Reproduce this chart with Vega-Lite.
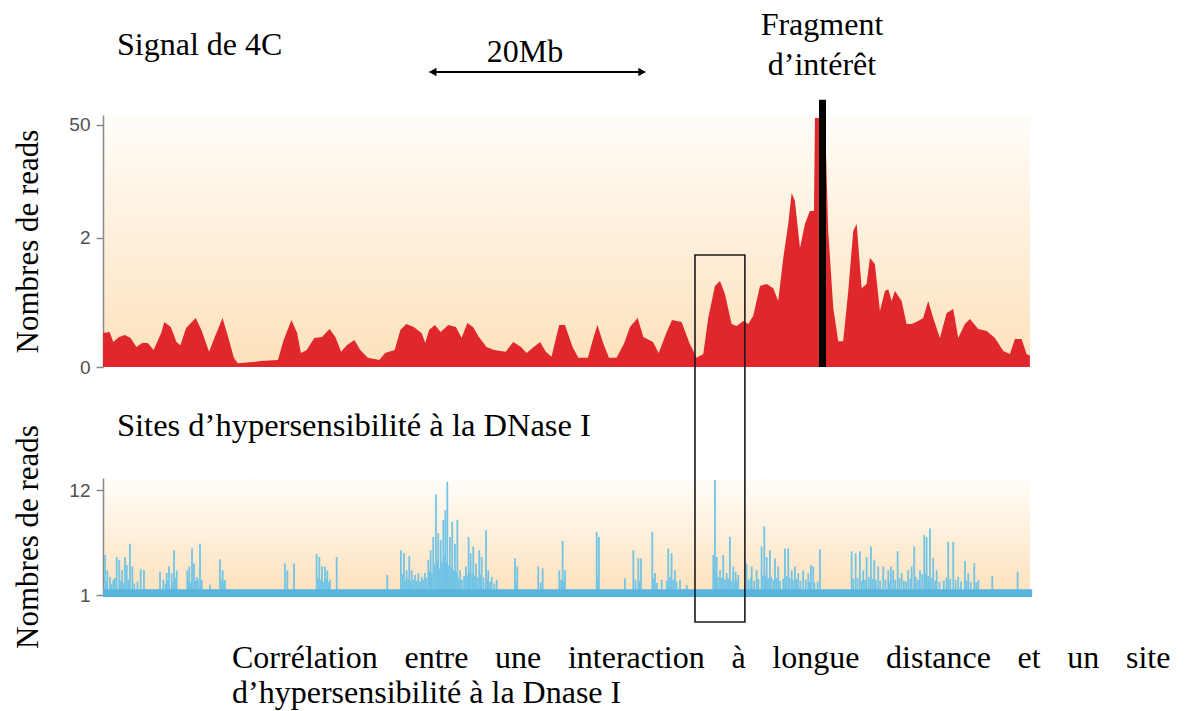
{
  "$schema": "https://vega.github.io/schema/vega-lite/v6.json",
  "padding": {"left": 12, "top": 0, "right": 0, "bottom": 0},
  "bounds": "flush",
  "spacing": 0,
  "config": {
    "font": "Liberation Serif",
    "view": {"stroke": null},
    "axisY": {
      "grid": false,
      "domainColor": "#8a8a8a",
      "domainWidth": 1.5,
      "tickColor": "#8a8a8a",
      "tickWidth": 1.5,
      "tickSize": 7,
      "labelFont": "Liberation Sans",
      "labelFontSize": 19,
      "labelColor": "#505050",
      "labelPadding": 6,
      "titleFont": "Liberation Serif",
      "titleFontSize": 31,
      "titleFontWeight": "normal",
      "titleColor": "black",
      "titlePadding": 24
    }
  },
  "vconcat": [
    {
      "width": 927,
      "height": 115,
      "view": {"stroke": null, "fill": null},
      "layer": [
        {
          "data": {"values": [{}]},
          "mark": {"type": "text", "text": "Signal de 4C", "align": "left", "baseline": "alphabetic", "fontSize": 32, "color": "black"},
          "encoding": {
            "x": {"datum": 1.3, "type": "quantitative", "scale": {"domain": [0, 86], "nice": false}, "axis": null},
            "y": {"datum": 52.2, "type": "quantitative", "scale": {"domain": [0, 100], "nice": false}, "axis": null}
          }
        },
        {
          "data": {"values": [{}]},
          "mark": {"type": "text", "text": ["Fragment", "d’intérêt"], "align": "center", "baseline": "alphabetic", "lineHeight": 40, "fontSize": 32, "color": "black"},
          "encoding": {
            "x": {"datum": 66.7, "type": "quantitative"},
            "y": {"datum": 69.6, "type": "quantitative"}
          }
        },
        {
          "data": {"values": [{}]},
          "mark": {"type": "text", "text": "20Mb", "align": "center", "baseline": "alphabetic", "fontSize": 32, "color": "black"},
          "encoding": {
            "x": {"datum": 39.15, "type": "quantitative"},
            "y": {"datum": 46.1, "type": "quantitative"}
          }
        },
        {
          "data": {"values": [{}]},
          "mark": {"type": "rule", "color": "black", "strokeWidth": 1.8},
          "encoding": {
            "x": {"datum": 30.3, "type": "quantitative"},
            "x2": {"datum": 50.3},
            "y": {"datum": 37.4, "type": "quantitative"}
          }
        },
        {
          "data": {"values": [{}]},
          "mark": {"type": "point", "shape": "triangle-left", "filled": true, "color": "black", "opacity": 1, "size": 70},
          "encoding": {
            "x": {"datum": 30.6, "type": "quantitative"},
            "y": {"datum": 37.4, "type": "quantitative"}
          }
        },
        {
          "data": {"values": [{}]},
          "mark": {"type": "point", "shape": "triangle-right", "filled": true, "color": "black", "opacity": 1, "size": 70},
          "encoding": {
            "x": {"datum": 50.0, "type": "quantitative"},
            "y": {"datum": 37.4, "type": "quantitative"}
          }
        }
      ]
    },
    {
      "width": 927,
      "height": 252,
      "view": {
        "stroke": null,
        "fill": {"gradient": "linear", "x1": 0, "y1": 0, "x2": 0, "y2": 1, "stops": [{"offset": 0, "color": "#fffdf9"}, {"offset": 1, "color": "#fde1bb"}]}
      },
      "layer": [
        {
          "data": {"values": [
            {"pos": 0.0, "reads": 0.087}, {"pos": 0.61, "reads": 0.091}, {"pos": 0.96, "reads": 0.055}, {"pos": 1.49, "reads": 0.072},
            {"pos": 2.03, "reads": 0.079}, {"pos": 2.56, "reads": 0.068}, {"pos": 3.10, "reads": 0.041}, {"pos": 3.63, "reads": 0.052},
            {"pos": 4.16, "reads": 0.052}, {"pos": 4.69, "reads": 0.033}, {"pos": 5.40, "reads": 0.087}, {"pos": 5.69, "reads": 0.138},
            {"pos": 6.29, "reads": 0.113}, {"pos": 6.82, "reads": 0.055}, {"pos": 7.18, "reads": 0.046}, {"pos": 7.71, "reads": 0.108},
            {"pos": 8.60, "reads": 0.161}, {"pos": 9.13, "reads": 0.099}, {"pos": 9.84, "reads": 0.029}, {"pos": 10.37, "reads": 0.072},
            {"pos": 11.09, "reads": 0.161}, {"pos": 11.61, "reads": 0.072}, {"pos": 12.14, "reads": 0.016}, {"pos": 12.50, "reads": 0.006},
            {"pos": 13.92, "reads": 0.008}, {"pos": 14.63, "reads": 0.010}, {"pos": 16.23, "reads": 0.012}, {"pos": 16.76, "reads": 0.062},
            {"pos": 17.48, "reads": 0.149}, {"pos": 18.01, "reads": 0.087}, {"pos": 18.36, "reads": 0.026}, {"pos": 18.90, "reads": 0.033},
            {"pos": 19.60, "reads": 0.068}, {"pos": 20.32, "reads": 0.072}, {"pos": 21.02, "reads": 0.104}, {"pos": 21.56, "reads": 0.072},
            {"pos": 22.09, "reads": 0.029}, {"pos": 22.62, "reads": 0.046}, {"pos": 23.33, "reads": 0.062}, {"pos": 23.86, "reads": 0.033},
            {"pos": 24.57, "reads": 0.016}, {"pos": 25.64, "reads": 0.012}, {"pos": 26.17, "reads": 0.026}, {"pos": 27.06, "reads": 0.033},
            {"pos": 27.59, "reads": 0.099}, {"pos": 28.13, "reads": 0.128}, {"pos": 28.83, "reads": 0.113}, {"pos": 29.55, "reads": 0.087},
            {"pos": 29.90, "reads": 0.052}, {"pos": 30.25, "reads": 0.099}, {"pos": 30.79, "reads": 0.123}, {"pos": 31.32, "reads": 0.091},
            {"pos": 32.03, "reads": 0.123}, {"pos": 32.74, "reads": 0.113}, {"pos": 33.27, "reads": 0.068}, {"pos": 33.80, "reads": 0.133},
            {"pos": 34.33, "reads": 0.113}, {"pos": 34.87, "reads": 0.072}, {"pos": 35.58, "reads": 0.041}, {"pos": 36.29, "reads": 0.033},
            {"pos": 37.36, "reads": 0.029}, {"pos": 38.06, "reads": 0.055}, {"pos": 38.78, "reads": 0.041}, {"pos": 39.30, "reads": 0.026},
            {"pos": 39.84, "reads": 0.038}, {"pos": 40.55, "reads": 0.055}, {"pos": 41.08, "reads": 0.029}, {"pos": 41.61, "reads": 0.018},
            {"pos": 42.32, "reads": 0.123}, {"pos": 42.86, "reads": 0.123}, {"pos": 43.56, "reads": 0.041}, {"pos": 44.10, "reads": 0.016},
            {"pos": 44.98, "reads": 0.016}, {"pos": 45.52, "reads": 0.072}, {"pos": 45.87, "reads": 0.123}, {"pos": 46.40, "reads": 0.052},
            {"pos": 46.94, "reads": 0.016}, {"pos": 47.64, "reads": 0.016}, {"pos": 48.36, "reads": 0.052}, {"pos": 48.89, "reads": 0.113},
            {"pos": 49.60, "reads": 0.161}, {"pos": 50.13, "reads": 0.072}, {"pos": 51.02, "reads": 0.055}, {"pos": 51.55, "reads": 0.026},
            {"pos": 52.26, "reads": 0.087}, {"pos": 52.79, "reads": 0.149}, {"pos": 53.68, "reads": 0.138}, {"pos": 54.40, "reads": 0.052},
            {"pos": 55.07, "reads": 0.016}, {"pos": 55.69, "reads": 0.024}, {"pos": 56.15, "reads": 0.161}, {"pos": 56.77, "reads": 0.477},
            {"pos": 57.24, "reads": 0.557}, {"pos": 57.70, "reads": 0.369}, {"pos": 58.32, "reads": 0.128}, {"pos": 58.78, "reads": 0.118},
            {"pos": 59.40, "reads": 0.144}, {"pos": 59.86, "reads": 0.128}, {"pos": 60.32, "reads": 0.174}, {"pos": 60.95, "reads": 0.477},
            {"pos": 61.57, "reads": 0.507}, {"pos": 62.18, "reads": 0.445}, {"pos": 62.64, "reads": 0.293}, {"pos": 63.11, "reads": 1.115},
            {"pos": 63.57, "reads": 3.0}, {"pos": 63.89, "reads": 7.26}, {"pos": 64.19, "reads": 5.78}, {"pos": 64.66, "reads": 1.5},
            {"pos": 65.12, "reads": 3.0}, {"pos": 65.58, "reads": 4.35}, {"pos": 65.96, "reads": 4.35}, {"pos": 66.05, "reads": 60.6},
            {"pos": 66.98, "reads": 60.6}, {"pos": 67.28, "reads": 2.45}, {"pos": 67.75, "reads": 0.231}, {"pos": 68.21, "reads": 0.058},
            {"pos": 68.67, "reads": 0.058}, {"pos": 69.14, "reads": 0.407}, {"pos": 69.60, "reads": 2.45}, {"pos": 69.92, "reads": 3.0},
            {"pos": 70.38, "reads": 0.445}, {"pos": 70.84, "reads": 0.507}, {"pos": 71.15, "reads": 1.115}, {"pos": 71.61, "reads": 0.933},
            {"pos": 72.08, "reads": 0.208}, {"pos": 72.54, "reads": 0.407}, {"pos": 72.85, "reads": 0.431}, {"pos": 73.16, "reads": 0.293},
            {"pos": 73.47, "reads": 0.407}, {"pos": 74.09, "reads": 0.293}, {"pos": 74.55, "reads": 0.128}, {"pos": 75.02, "reads": 0.128},
            {"pos": 75.63, "reads": 0.144}, {"pos": 76.09, "reads": 0.161}, {"pos": 76.56, "reads": 0.293}, {"pos": 77.02, "reads": 0.161},
            {"pos": 77.64, "reads": 0.068}, {"pos": 78.27, "reads": 0.194}, {"pos": 78.88, "reads": 0.223}, {"pos": 79.34, "reads": 0.068},
            {"pos": 79.96, "reads": 0.128}, {"pos": 80.43, "reads": 0.155}, {"pos": 81.20, "reads": 0.104}, {"pos": 81.98, "reads": 0.095},
            {"pos": 82.75, "reads": 0.068}, {"pos": 83.52, "reads": 0.031}, {"pos": 84.14, "reads": 0.024}, {"pos": 84.60, "reads": 0.065},
            {"pos": 85.22, "reads": 0.065}, {"pos": 85.68, "reads": 0.024}, {"pos": 85.99, "reads": 0.020}
          ]},
          "mark": {"type": "area", "color": "#e0272c", "interpolate": "linear"},
          "encoding": {
            "x": {"field": "pos", "type": "quantitative", "scale": {"domain": [0, 86], "nice": false}, "axis": null},
            "y": {
              "field": "reads", "type": "quantitative",
              "scale": {"type": "symlog", "constant": 0.054, "domain": [0, 65.9], "nice": false},
              "axis": {"values": [0, 2, 50], "title": "Nombres de reads"}
            }
          }
        },
        {
          "data": {"values": [{}]},
          "mark": {"type": "rule", "color": "black", "strokeWidth": 7},
          "encoding": {
            "x": {"datum": 66.75, "type": "quantitative"},
            "y": {"datum": 0, "type": "quantitative"},
            "y2": {"datum": 101}
          }
        }
      ]
    },
    {
      "width": 927,
      "height": 111,
      "view": {"stroke": null, "fill": null},
      "layer": [
        {
          "data": {"values": [{}]},
          "mark": {"type": "text", "text": "Sites d’hypersensibilité à la DNase I", "align": "left", "baseline": "alphabetic", "fontSize": 32.5, "color": "black"},
          "encoding": {
            "x": {"datum": 1.3, "type": "quantitative", "scale": {"domain": [0, 86], "nice": false}, "axis": null},
            "y": {"datum": 37.8, "type": "quantitative", "scale": {"domain": [0, 100], "nice": false}, "axis": null}
          }
        }
      ]
    },
    {
      "width": 927,
      "height": 117,
      "view": {
        "stroke": null,
        "fill": {"gradient": "linear", "x1": 0, "y1": 0, "x2": 0, "y2": 1, "stops": [{"offset": 0, "color": "#fffdf9"}, {"offset": 1, "color": "#fde1bb"}]}
      },
      "layer": [
        {
          "data": {"values": [
            {"pos": 0.19, "reads": 5.2}, {"pos": 0.30, "reads": 2.4}, {"pos": 0.40, "reads": 3.6}, {"pos": 0.65, "reads": 2.9},
            {"pos": 0.80, "reads": 2.2}, {"pos": 0.96, "reads": 2.6}, {"pos": 1.10, "reads": 2.8}, {"pos": 1.27, "reads": 5.0},
            {"pos": 1.51, "reads": 4.7}, {"pos": 1.60, "reads": 2.5}, {"pos": 1.76, "reads": 3.6}, {"pos": 1.90, "reads": 2.3},
            {"pos": 2.04, "reads": 5.0}, {"pos": 2.20, "reads": 4.15}, {"pos": 2.35, "reads": 2.6}, {"pos": 2.50, "reads": 6.4},
            {"pos": 2.72, "reads": 4.0}, {"pos": 2.90, "reads": 2.2}, {"pos": 3.20, "reads": 2.4}, {"pos": 3.50, "reads": 3.7},
            {"pos": 3.80, "reads": 3.6}, {"pos": 5.29, "reads": 3.45}, {"pos": 5.60, "reads": 2.6}, {"pos": 5.80, "reads": 2.2},
            {"pos": 5.91, "reads": 3.3}, {"pos": 6.00, "reads": 2.5}, {"pos": 6.12, "reads": 4.0}, {"pos": 6.37, "reads": 3.3},
            {"pos": 6.50, "reads": 2.4}, {"pos": 6.59, "reads": 5.7}, {"pos": 6.70, "reads": 2.8}, {"pos": 6.84, "reads": 3.6},
            {"pos": 7.82, "reads": 3.6}, {"pos": 7.95, "reads": 2.6}, {"pos": 8.01, "reads": 4.0}, {"pos": 8.15, "reads": 2.3},
            {"pos": 8.26, "reads": 5.9}, {"pos": 8.44, "reads": 4.3}, {"pos": 8.55, "reads": 2.5}, {"pos": 8.69, "reads": 2.9},
            {"pos": 8.80, "reads": 2.7}, {"pos": 9.00, "reads": 6.4}, {"pos": 9.10, "reads": 2.2}, {"pos": 9.16, "reads": 2.6},
            {"pos": 9.93, "reads": 2.05}, {"pos": 10.85, "reads": 4.75}, {"pos": 11.00, "reads": 2.6}, {"pos": 11.10, "reads": 3.6},
            {"pos": 11.20, "reads": 2.3}, {"pos": 11.32, "reads": 2.6}, {"pos": 16.88, "reads": 4.3}, {"pos": 17.10, "reads": 3.6},
            {"pos": 17.72, "reads": 4.3}, {"pos": 19.82, "reads": 5.3}, {"pos": 19.95, "reads": 2.8}, {"pos": 20.07, "reads": 5.0},
            {"pos": 20.20, "reads": 2.6}, {"pos": 20.32, "reads": 4.0}, {"pos": 20.45, "reads": 2.4}, {"pos": 20.59, "reads": 4.0},
            {"pos": 20.70, "reads": 2.7}, {"pos": 20.81, "reads": 3.6}, {"pos": 20.95, "reads": 2.3}, {"pos": 21.06, "reads": 2.6},
            {"pos": 21.68, "reads": 5.0}, {"pos": 26.37, "reads": 3.1}, {"pos": 27.64, "reads": 5.7}, {"pos": 27.80, "reads": 3.2},
            {"pos": 27.92, "reads": 5.4}, {"pos": 28.05, "reads": 2.5}, {"pos": 28.17, "reads": 3.6}, {"pos": 28.30, "reads": 2.7},
            {"pos": 28.41, "reads": 5.1}, {"pos": 28.50, "reads": 2.4}, {"pos": 28.64, "reads": 3.6}, {"pos": 28.80, "reads": 2.6},
            {"pos": 28.94, "reads": 3.1}, {"pos": 29.10, "reads": 2.5}, {"pos": 29.25, "reads": 3.3}, {"pos": 29.40, "reads": 2.4},
            {"pos": 29.56, "reads": 2.9}, {"pos": 29.70, "reads": 2.6}, {"pos": 29.87, "reads": 3.3}, {"pos": 30.00, "reads": 2.8},
            {"pos": 30.18, "reads": 4.7}, {"pos": 30.30, "reads": 3.5}, {"pos": 30.40, "reads": 5.7}, {"pos": 30.50, "reads": 3.3},
            {"pos": 30.64, "reads": 7.1}, {"pos": 30.75, "reads": 4.2}, {"pos": 30.89, "reads": 11.6}, {"pos": 31.00, "reads": 4.6},
            {"pos": 31.10, "reads": 7.5}, {"pos": 31.20, "reads": 3.8}, {"pos": 31.33, "reads": 6.8}, {"pos": 31.45, "reads": 4.5},
            {"pos": 31.57, "reads": 8.9}, {"pos": 31.65, "reads": 5.2}, {"pos": 31.76, "reads": 9.9}, {"pos": 31.85, "reads": 4.4},
            {"pos": 31.94, "reads": 12.9}, {"pos": 32.05, "reads": 4.1}, {"pos": 32.19, "reads": 7.1}, {"pos": 32.30, "reads": 3.9},
            {"pos": 32.40, "reads": 8.7}, {"pos": 32.55, "reads": 3.6}, {"pos": 32.65, "reads": 6.4}, {"pos": 32.75, "reads": 3.4},
            {"pos": 32.87, "reads": 8.9}, {"pos": 33.00, "reads": 2.8}, {"pos": 33.12, "reads": 3.6}, {"pos": 33.30, "reads": 2.6},
            {"pos": 33.50, "reads": 3.0}, {"pos": 33.67, "reads": 4.0}, {"pos": 33.80, "reads": 3.1}, {"pos": 33.92, "reads": 7.1},
            {"pos": 34.00, "reads": 3.4}, {"pos": 34.11, "reads": 5.4}, {"pos": 34.25, "reads": 3.2}, {"pos": 34.35, "reads": 6.1},
            {"pos": 34.50, "reads": 3.0}, {"pos": 34.60, "reads": 4.3}, {"pos": 34.75, "reads": 2.9}, {"pos": 34.91, "reads": 5.7},
            {"pos": 35.00, "reads": 3.1}, {"pos": 35.13, "reads": 5.0}, {"pos": 35.30, "reads": 2.8}, {"pos": 35.53, "reads": 7.8},
            {"pos": 35.65, "reads": 2.6}, {"pos": 35.74, "reads": 3.6}, {"pos": 35.90, "reads": 2.4}, {"pos": 36.06, "reads": 2.9},
            {"pos": 36.30, "reads": 2.2}, {"pos": 36.52, "reads": 2.6}, {"pos": 38.22, "reads": 4.85}, {"pos": 38.30, "reads": 2.4},
            {"pos": 38.43, "reads": 4.0}, {"pos": 40.38, "reads": 4.0}, {"pos": 40.60, "reads": 2.3}, {"pos": 40.79, "reads": 3.8},
            {"pos": 42.33, "reads": 3.6}, {"pos": 42.50, "reads": 2.6}, {"pos": 42.64, "reads": 6.7}, {"pos": 42.75, "reads": 2.4},
            {"pos": 42.86, "reads": 3.6}, {"pos": 45.80, "reads": 7.65}, {"pos": 45.90, "reads": 2.8}, {"pos": 46.01, "reads": 7.1},
            {"pos": 48.42, "reads": 2.75}, {"pos": 49.20, "reads": 5.7}, {"pos": 49.40, "reads": 2.6}, {"pos": 49.66, "reads": 4.85},
            {"pos": 49.80, "reads": 2.5}, {"pos": 49.91, "reads": 4.85}, {"pos": 50.96, "reads": 7.65}, {"pos": 51.05, "reads": 2.8},
            {"pos": 51.21, "reads": 3.3}, {"pos": 51.40, "reads": 2.3}, {"pos": 51.83, "reads": 2.6}, {"pos": 52.30, "reads": 2.5},
            {"pos": 52.44, "reads": 5.9}, {"pos": 52.60, "reads": 2.9}, {"pos": 52.75, "reads": 5.4}, {"pos": 52.90, "reads": 2.6},
            {"pos": 53.06, "reads": 3.6}, {"pos": 53.20, "reads": 2.4}, {"pos": 53.53, "reads": 2.6}, {"pos": 54.15, "reads": 2.05},
            {"pos": 56.62, "reads": 5.2}, {"pos": 56.70, "reads": 3.0}, {"pos": 56.77, "reads": 13.1}, {"pos": 56.85, "reads": 3.4},
            {"pos": 56.93, "reads": 5.0}, {"pos": 57.05, "reads": 2.9}, {"pos": 57.24, "reads": 3.6}, {"pos": 57.40, "reads": 2.8},
            {"pos": 57.54, "reads": 5.2}, {"pos": 57.70, "reads": 2.6}, {"pos": 57.86, "reads": 3.3}, {"pos": 58.00, "reads": 2.7},
            {"pos": 58.16, "reads": 7.1}, {"pos": 58.30, "reads": 2.5}, {"pos": 58.47, "reads": 4.0}, {"pos": 58.60, "reads": 2.4},
            {"pos": 58.69, "reads": 3.45}, {"pos": 58.80, "reads": 2.5}, {"pos": 58.93, "reads": 3.1}, {"pos": 59.71, "reads": 4.3},
            {"pos": 59.90, "reads": 2.6}, {"pos": 60.10, "reads": 2.8}, {"pos": 60.18, "reads": 4.0}, {"pos": 60.40, "reads": 2.5},
            {"pos": 60.64, "reads": 3.6}, {"pos": 60.80, "reads": 2.7}, {"pos": 61.10, "reads": 6.1}, {"pos": 61.20, "reads": 3.0},
            {"pos": 61.35, "reads": 8.2}, {"pos": 61.45, "reads": 3.1}, {"pos": 61.57, "reads": 5.0}, {"pos": 61.70, "reads": 2.8},
            {"pos": 61.87, "reads": 5.7}, {"pos": 62.00, "reads": 2.9}, {"pos": 62.20, "reads": 2.6}, {"pos": 62.34, "reads": 4.85},
            {"pos": 62.50, "reads": 2.8}, {"pos": 62.64, "reads": 4.0}, {"pos": 62.80, "reads": 2.5}, {"pos": 63.10, "reads": 2.7},
            {"pos": 63.27, "reads": 5.9}, {"pos": 63.40, "reads": 3.0}, {"pos": 63.57, "reads": 5.9}, {"pos": 63.70, "reads": 2.8},
            {"pos": 63.89, "reads": 3.6}, {"pos": 64.00, "reads": 2.6}, {"pos": 64.19, "reads": 4.0}, {"pos": 64.35, "reads": 2.7},
            {"pos": 64.50, "reads": 3.3}, {"pos": 64.70, "reads": 2.5}, {"pos": 64.96, "reads": 3.6}, {"pos": 65.20, "reads": 2.6},
            {"pos": 65.43, "reads": 3.3}, {"pos": 65.55, "reads": 2.4}, {"pos": 65.68, "reads": 4.15}, {"pos": 65.89, "reads": 4.0},
            {"pos": 66.00, "reads": 2.3}, {"pos": 66.30, "reads": 2.4}, {"pos": 66.51, "reads": 5.8}, {"pos": 69.45, "reads": 5.6},
            {"pos": 69.60, "reads": 2.7}, {"pos": 69.82, "reads": 5.4}, {"pos": 70.00, "reads": 2.8}, {"pos": 70.22, "reads": 5.6},
            {"pos": 70.40, "reads": 2.5}, {"pos": 70.53, "reads": 3.6}, {"pos": 70.70, "reads": 2.6}, {"pos": 70.84, "reads": 5.0},
            {"pos": 71.05, "reads": 2.9}, {"pos": 71.24, "reads": 6.1}, {"pos": 71.40, "reads": 2.7}, {"pos": 71.55, "reads": 4.7},
            {"pos": 71.70, "reads": 2.6}, {"pos": 71.92, "reads": 4.0}, {"pos": 72.10, "reads": 2.5}, {"pos": 72.39, "reads": 4.0},
            {"pos": 72.60, "reads": 2.6}, {"pos": 72.85, "reads": 3.6}, {"pos": 73.00, "reads": 2.4}, {"pos": 73.10, "reads": 4.0},
            {"pos": 73.31, "reads": 3.6}, {"pos": 73.50, "reads": 2.6}, {"pos": 73.72, "reads": 5.6}, {"pos": 73.90, "reads": 2.8},
            {"pos": 74.09, "reads": 3.3}, {"pos": 74.30, "reads": 2.5}, {"pos": 74.50, "reads": 2.4}, {"pos": 74.70, "reads": 3.6},
            {"pos": 74.90, "reads": 2.7}, {"pos": 75.02, "reads": 4.0}, {"pos": 75.26, "reads": 6.1}, {"pos": 75.40, "reads": 2.9},
            {"pos": 75.60, "reads": 2.6}, {"pos": 75.79, "reads": 3.6}, {"pos": 76.00, "reads": 3.2}, {"pos": 76.19, "reads": 7.3},
            {"pos": 76.30, "reads": 3.3}, {"pos": 76.41, "reads": 7.1}, {"pos": 76.55, "reads": 3.0}, {"pos": 76.72, "reads": 8.0},
            {"pos": 76.85, "reads": 2.8}, {"pos": 77.02, "reads": 4.85}, {"pos": 77.20, "reads": 2.5}, {"pos": 77.34, "reads": 3.6},
            {"pos": 77.60, "reads": 2.4}, {"pos": 78.00, "reads": 2.5}, {"pos": 78.25, "reads": 2.8}, {"pos": 78.41, "reads": 6.6},
            {"pos": 78.60, "reads": 2.7}, {"pos": 78.88, "reads": 6.6}, {"pos": 79.10, "reads": 2.6}, {"pos": 79.34, "reads": 2.9},
            {"pos": 79.60, "reads": 2.4}, {"pos": 79.96, "reads": 4.6}, {"pos": 80.10, "reads": 2.5}, {"pos": 80.27, "reads": 3.3},
            {"pos": 80.50, "reads": 2.4}, {"pos": 80.83, "reads": 4.35}, {"pos": 81.00, "reads": 2.3}, {"pos": 81.20, "reads": 2.6},
            {"pos": 82.50, "reads": 3.0}, {"pos": 84.85, "reads": 3.45}
          ]},
          "mark": {"type": "rule", "color": "#72c4e6", "strokeWidth": 1.8},
          "encoding": {
            "x": {"field": "pos", "type": "quantitative", "scale": {"domain": [0, 86], "nice": false}, "axis": null},
            "y": {
              "field": "reads", "type": "quantitative",
              "scale": {"domain": [1, 13.3], "nice": false, "zero": false},
              "axis": {"values": [1, 12], "title": "Nombres de reads"}
            },
            "y2": {"datum": 1}
          }
        },
        {
          "data": {"values": [{}]},
          "mark": {"type": "rect", "color": "#58b4dc"},
          "encoding": {
            "x": {"datum": 0, "type": "quantitative"},
            "x2": {"datum": 86.2},
            "y": {"datum": 0.8, "type": "quantitative"},
            "y2": {"datum": 1.6}
          }
        },
        {
          "data": {"values": [{}]},
          "mark": {"type": "rect", "filled": false, "stroke": "#1a1a1a", "strokeWidth": 1.6},
          "encoding": {
            "x": {"datum": 54.92, "type": "quantitative"},
            "x2": {"datum": 59.55},
            "y": {"datum": 36.75, "type": "quantitative"},
            "y2": {"datum": -1.84}
          }
        }
      ]
    },
    {
      "width": 927,
      "height": 116,
      "view": {"stroke": null, "fill": null},
      "layer": [
        {
          "data": {"values": [{}]},
          "mark": {
            "type": "text",
            "text": ["Corrélation\u2002 \u200aentre\u2002 \u200aune\u2002 \u200ainteraction\u2002 \u200aà\u2002 \u200alongue\u2002 \u200adistance\u2002 \u200aet\u2002 \u200aun\u2002 \u200asite", "d’hypersensibilité à la Dnase I"],
            "align": "left", "baseline": "alphabetic", "lineHeight": 35, "fontSize": 32, "color": "black"
          },
          "encoding": {
            "x": {"datum": 11.97, "type": "quantitative", "scale": {"domain": [0, 86], "nice": false}, "axis": null},
            "y": {"datum": 37.1, "type": "quantitative", "scale": {"domain": [0, 100], "nice": false}, "axis": null}
          }
        }
      ]
    }
  ]
}
